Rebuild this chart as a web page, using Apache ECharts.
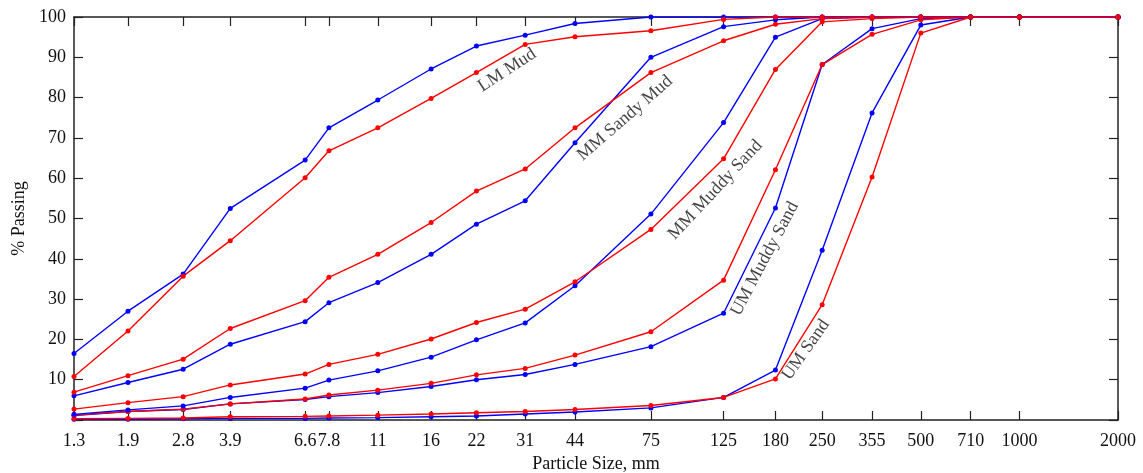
<!DOCTYPE html>
<html>
<head>
<meta charset="utf-8">
<script src="https://cdn.jsdelivr.net/npm/echarts@6/dist/echarts.min.js"></script>
<style>
  html, body { margin: 0; padding: 0; background: #fff; }
  #chart { width: 1143px; height: 473px; }
</style>
</head>
<body>
<div id="chart"></div>
<script>
// particle sizes (mm) - also used as tick positions
const sizes = [1.3, 1.9, 2.8, 3.9, 6.6, 7.8, 11, 16, 22, 31, 44, 75, 125, 180, 250, 355, 500, 710, 1000, 2000]

// % passing, blue = first sample, red = second sample
const lmMudBlue  = [16.5, 27.0, 36.2, 52.5, 64.5, 72.5, 79.4, 87.1, 92.8, 95.5, 98.4, 100, 100, 100, 100, 100, 100, 100, 100, 100]
const lmMudRed   = [10.8, 22.1, 35.7, 44.5, 60.1, 66.8, 72.5, 79.8, 86.2, 93.2, 95.1, 96.6, 99.4, 100, 100, 100, 100, 100, 100, 100]
const mmSandyMudBlue = [6.0, 9.3, 12.6, 18.8, 24.4, 29.1, 34.1, 41.1, 48.6, 54.4, 68.8, 90.0, 97.6, 99.3, 100, 100, 100, 100, 100, 100]
const mmSandyMudRed  = [6.9, 11.0, 15.1, 22.7, 29.6, 35.4, 41.1, 49.0, 56.8, 62.3, 72.5, 86.2, 94.1, 98.2, 99.6, 100, 100, 100, 100, 100]
const mmMuddySandBlue = [1.4, 2.5, 3.5, 5.6, 7.9, 9.9, 12.2, 15.6, 19.9, 24.1, 33.3, 51.1, 73.8, 95.0, 99.6, 100, 100, 100, 100, 100]
const mmMuddySandRed  = [2.7, 4.3, 5.8, 8.7, 11.4, 13.8, 16.3, 20.1, 24.2, 27.5, 34.3, 47.3, 64.8, 87.0, 98.8, 99.6, 100, 100, 100, 100]
const umMuddySandBlue = [1.1, 2.1, 2.6, 4.0, 5.1, 5.8, 6.8, 8.3, 10.0, 11.3, 13.8, 18.2, 26.5, 52.6, 88.2, 97.1, 99.6, 100, 100, 100]
const umMuddySandRed  = [1.2, 2.1, 2.7, 4.0, 5.2, 6.2, 7.4, 9.1, 11.2, 12.8, 16.1, 21.9, 34.7, 62.1, 88.2, 95.7, 99.3, 100, 100, 100]
const umSandBlue = [0.2, 0.2, 0.3, 0.4, 0.4, 0.5, 0.6, 0.8, 1.0, 1.5, 2.0, 3.0, 5.6, 12.4, 42.1, 76.2, 98.0, 100, 100, 100]
const umSandRed  = [0.3, 0.4, 0.5, 0.8, 0.9, 1.0, 1.2, 1.5, 1.8, 2.1, 2.6, 3.6, 5.6, 10.2, 28.6, 60.3, 96.0, 100, 100, 100]

// curve names written on the plot
const curveNames = ['LM Mud', 'MM Sandy Mud', 'MM Muddy Sand', 'UM Muddy Sand', 'UM Sand']
const namePos = [[27.3, 86.8], [62.5, 74.9], [118, 57.1], [167, 40.0], [223, 17.4]]
const nameRot = [33, 41, 47, 62, 55]

const FONT = 'Liberation Serif'
const AXIS_COLOR = '#222'

function pairs(vals) {
  return sizes.map((s, i) => [s, vals[i]])
}

function lineSeries(vals, color) {
  return {
    type: 'line',
    data: pairs(vals),
    symbol: 'circle',
    symbolSize: 5,
    lineStyle: { color: color, width: 1.4 },
    itemStyle: { color: color },
    silent: true,
    animation: false,
  }
}

const blue = '#0000ff'
const red = '#ff0000'

let series = [
  lineSeries(umSandBlue, blue), lineSeries(umSandRed, red),
  lineSeries(umMuddySandBlue, blue), lineSeries(umMuddySandRed, red),
  lineSeries(mmMuddySandBlue, blue), lineSeries(mmMuddySandRed, red),
  lineSeries(mmSandyMudBlue, blue), lineSeries(mmSandyMudRed, red),
  lineSeries(lmMudBlue, blue), lineSeries(lmMudRed, red),
]

// text labels on the curves
series.push({
  type: 'scatter',
  symbolSize: 0,
  silent: true,
  animation: false,
  data: curveNames.map((n, i) => ({
    value: namePos[i],
    label: {
      show: true,
      formatter: n,
      position: 'inside',
      rotate: nameRot[i],
      fontFamily: FONT,
      fontSize: 18,
      color: '#111',
    },
  })),
})

function xAxisCfg(pos, showLabel) {
  return {
    type: 'log',
    logBase: 10,
    position: pos,
    min: 1.3,
    max: 2000,
    name: showLabel ? 'Particle Size, mm' : '',
    nameLocation: 'middle',
    nameGap: 34,
    nameTextStyle: { fontFamily: FONT, fontSize: 18, color: '#111' },
    axisLine: { show: true, onZero: false, lineStyle: { color: AXIS_COLOR, width: 1.5 } },
    axisTick: { show: true, inside: true, length: 9, customValues: sizes, lineStyle: { color: AXIS_COLOR, width: 1.2 } },
    axisLabel: {
      show: showLabel,
      customValues: sizes,
      margin: 12,
      fontFamily: FONT,
      fontSize: 18,
      color: '#111',
      formatter: (v) => String(+v.toFixed(1)),
    },
    splitLine: { show: false },
    minorTick: { show: false },
  }
}

function yAxisCfg(pos, showLabel) {
  return {
    type: 'value',
    position: pos,
    min: 0,
    max: 100,
    interval: 10,
    name: showLabel ? '% Passing' : '',
    nameLocation: 'middle',
    nameRotate: 90,
    nameGap: 44,
    nameTextStyle: { fontFamily: FONT, fontSize: 18, color: '#111' },
    axisLine: { show: true, lineStyle: { color: AXIS_COLOR, width: 1.5 } },
    axisTick: { show: true, inside: true, length: 9, lineStyle: { color: AXIS_COLOR, width: 1.2 } },
    axisLabel: {
      show: showLabel,
      margin: 8,
      fontFamily: FONT,
      fontSize: 18,
      color: '#111',
      formatter: (v) => (v === 0 ? '' : String(v)),
    },
    splitLine: { show: false },
  }
}

let chart = echarts.init(document.getElementById('chart'), null, { renderer: 'canvas' })
chart.setOption({
  backgroundColor: '#fff',
  animation: false,
  grid: { left: 74, right: 25, top: 17, bottom: 53, containLabel: false, outerBoundsMode: 'none' },
  xAxis: [xAxisCfg('bottom', true), xAxisCfg('top', false)],
  yAxis: [yAxisCfg('left', true), yAxisCfg('right', false)],
  series: series,
})
</script>
</body>
</html>
